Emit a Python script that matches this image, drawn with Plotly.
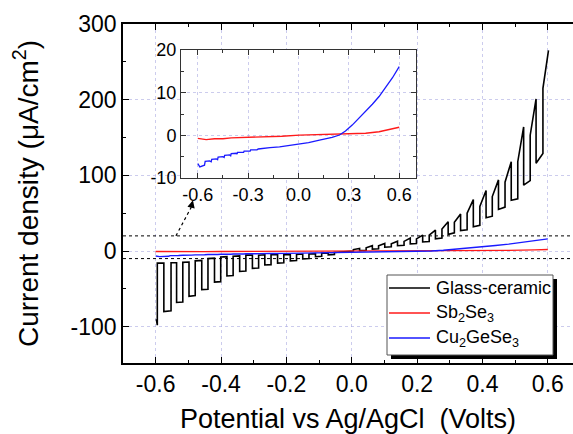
import plotly.graph_objects as go

FONT = "Liberation Sans, Arial, sans-serif"

# ---------------- data ----------------
# Glass-ceramic: chopped-light response. Each cycle = light on -> light off.
gc_start_v = [-0.598, -0.595]
gc_start_j = [-90.0, -98.0]
gc_first_dark = -16.0
gc_on_v = [-0.575, -0.536, -0.498, -0.459, -0.420, -0.382, -0.343, -0.304, -0.266, -0.227,
           -0.188, -0.150, -0.111, -0.072, -0.034, 0.005, 0.044, 0.082, 0.121, 0.160,
           0.198, 0.237, 0.276, 0.314, 0.353, 0.392, 0.430, 0.469, 0.508, 0.546, 0.585]
gc_off_v = [-0.553, -0.517, -0.479, -0.440, -0.401, -0.363, -0.324, -0.285, -0.247, -0.208,
            -0.169, -0.131, -0.092, -0.053, -0.015, 0.024, 0.063, 0.101, 0.140, 0.179,
            0.217, 0.256, 0.295, 0.333, 0.372, 0.411, 0.449, 0.488, 0.526, 0.564, 0.602]
gc_light_start = [-80, -68, -60, -51, -41, -33, -27, -23, -18.5, -16,
                  -13, -10.5, -7.5, -5, -2, 1.9, 4.3, 6.9, 9.6, 12.7,
                  16, 21, 29, 38, 50, 59, 72, 91, 118, 153, 215]
gc_light_end = [-79, -67.5, -59, -50.5, -40.5, -32.5, -26.5, -22.5, -18, -15.5,
                -12.5, -10, -7, -4.5, -1, 3.5, 7, 10, 13, 17,
                21, 27.7, 38.7, 49, 68, 80, 94, 118, 164, 201, 265]
gc_dark_start = [-15.5, -15, -13, -10, -8, -7, -5.5, -5.5, -5, -5,
                 -4.5, -4, -3, -2, -0.5, 0.5, 2.5, 5, 7, 9.5,
                 12, 16, 22, 27, 32, 44, 55, 67, 87, 116]
gc_dark_end = [-15.5, -14.5, -12.5, -9.5, -7.5, -6.5, -5.5, -5, -5, -4.5,
               -4, -3.5, -2.5, -1.5, 0, 1, 3, 5.5, 7.5, 10,
               12.5, 17, 24, 28, 34, 46, 58, 69, 93, 129]

sb_v = [-0.600, -0.550, -0.500, -0.450, -0.400, -0.300, -0.230, -0.100, 0.006, 0.100,
        0.245, 0.400, 0.480, 0.560, 0.600]
sb_j = [-0.7, -1.0, -0.8, -0.8, -0.6, -0.5, -0.4, -0.2, 0.05, 0.15,
        0.3, 0.5, 0.85, 1.5, 1.9]

cu_v = [-0.600, -0.588, -0.560, -0.556, -0.530, -0.520, -0.517, -0.490, -0.482, -0.479,
        -0.450, -0.443, -0.440, -0.410, -0.404, -0.401, -0.370, -0.366, -0.363, -0.330,
        -0.327, -0.324, -0.290, -0.288, -0.285, -0.250, -0.247, -0.240, -0.200, -0.170,
        -0.113, -0.050, 0.006, 0.060, 0.125, 0.200, 0.244, 0.280, 0.320, 0.360,
        0.400, 0.440, 0.480, 0.520, 0.560, 0.600]
cu_j = [-6.6, -7.4, -7.0, -6.1, -6.0, -6.2, -5.6, -5.5, -5.7, -5.1,
        -5.0, -5.2, -4.7, -4.6, -4.8, -4.3, -4.2, -4.4, -4.0, -3.9,
        -4.0, -3.7, -3.6, -3.7, -3.4, -3.3, -3.4, -3.2, -3.1, -2.9,
        -2.7, -2.4, -2.1, -1.7, -1.1, -0.5, 0.07, 1.0, 2.4, 4.0,
        5.7, 7.3, 9.1, 11.2, 13.5, 16.1]

series_names = ["Glass-ceramic", "Sb<sub>2</sub>Se<sub>3</sub>", "Cu<sub>2</sub>GeSe<sub>3</sub>"]
series_colors = ["#000000", "#ff1a1a", "#1a1aff"]

x_ticks = [-0.6, -0.4, -0.2, 0.0, 0.2, 0.4, 0.6]
x_tick_labels = ["-0.6", "-0.4", "-0.2", "0.0", "0.2", "0.4", "0.6"]
y_ticks = [-100, 0, 100, 200, 300]
y_tick_labels = ["-100", "0", "100", "200", "300"]
in_x_ticks = [-0.6, -0.3, 0.0, 0.3, 0.6]
in_x_tick_labels = ["-0.6", "-0.3", "0.0", "0.3", "0.6"]
in_y_ticks = [-10, 0, 10, 20]
in_y_tick_labels = ["-10", "0", "10", "20"]
inset_x_range = [-0.7, 0.7]
inset_y_range = [-10, 20]
arrow_from = [-0.538, 20]
arrow_to = [-0.486, 67]

# ---------------- assemble glass-ceramic polyline ----------------
gc_v = list(gc_start_v)
gc_j = list(gc_start_j)
gc_v.append(gc_start_v[-1]); gc_j.append(gc_first_dark)
prev_dark = gc_first_dark
for k in range(len(gc_on_v)):
    gc_v += [gc_on_v[k], gc_on_v[k], gc_off_v[k]]
    gc_j += [prev_dark, gc_light_start[k], gc_light_end[k]]
    if k < len(gc_dark_start):
        gc_v.append(gc_off_v[k]); gc_j.append(gc_dark_start[k])
        prev_dark = gc_dark_end[k]

GRID = "rgba(170,170,225,0.6)"

fig = go.Figure()
fig.add_trace(go.Scatter(x=gc_v, y=gc_j, mode="lines", name=series_names[0],
                         line=dict(color=series_colors[0], width=1.6)))
fig.add_trace(go.Scatter(x=sb_v, y=sb_j, mode="lines", name=series_names[1],
                         line=dict(color=series_colors[1], width=1.4)))
fig.add_trace(go.Scatter(x=cu_v, y=cu_j, mode="lines", name=series_names[2],
                         line=dict(color=series_colors[2], width=1.4)))
fig.add_trace(go.Scatter(x=sb_v, y=sb_j, mode="lines", showlegend=False, xaxis="x2", yaxis="y2",
                         line=dict(color=series_colors[1], width=1.4)))
fig.add_trace(go.Scatter(x=cu_v, y=cu_j, mode="lines", showlegend=False, xaxis="x2", yaxis="y2",
                         line=dict(color=series_colors[2], width=1.3)))

W, H = 573, 434
L, R, T, B = 123, 0, 24, 71
pw, ph = W - L - R, H - T - B

def px2paper_x(px):
    return (px - L) / pw

def px2paper_y(py):
    return (H - B - py) / ph

fig.update_layout(
    width=W, height=H,
    margin=dict(l=L, r=R, t=T, b=B),
    paper_bgcolor="white", plot_bgcolor="white",
    font=dict(family=FONT, color="black"),
    showlegend=False,
    xaxis=dict(range=[-0.7, 0.677], tickvals=x_ticks, ticktext=x_tick_labels,
               ticks="inside", ticklen=6, tickwidth=1.2, tickcolor="black",
               showline=True, linecolor="black", linewidth=1.5, mirror="ticks",
               showgrid=True, gridcolor=GRID, griddash="dot", gridwidth=1, zeroline=False,
               minor=dict(dtick=0.1, tick0=0, ticks="inside", ticklen=3, tickcolor="black", showgrid=False),
               tickfont=dict(size=23),
               title=dict(text="Potential vs Ag/AgCl \u00a0(Volts)", font=dict(size=27), standoff=15)),
    yaxis=dict(range=[-148, 300], tickvals=y_ticks, ticktext=y_tick_labels,
               ticks="inside", ticklen=6, tickwidth=1.2, tickcolor="black",
               showline=True, linecolor="black", linewidth=1.5, mirror=False,
               showgrid=True, gridcolor=GRID, griddash="dot", gridwidth=1, zeroline=False,
               minor=dict(dtick=50, tick0=0, ticks="inside", ticklen=3, tickcolor="black", showgrid=False),
               tickfont=dict(size=23),
               title=dict(text="Current density (\u03bcA/cm<sup>2</sup>)", font=dict(size=28), standoff=24)),
    xaxis2=dict(domain=[px2paper_x(181), px2paper_x(416)], anchor="y2", range=inset_x_range,
                tickvals=in_x_ticks, ticktext=in_x_tick_labels,
                ticks="inside", ticklen=5, tickcolor="#333", showline=True, linecolor="#333",
                linewidth=1, mirror="ticks", showgrid=True, gridcolor=GRID, griddash="dot",
                zeroline=False,
                minor=dict(dtick=0.15, tick0=0, ticks="inside", ticklen=3, tickcolor="#333", showgrid=False),
                tickfont=dict(size=18)),
    yaxis2=dict(domain=[px2paper_y(178), px2paper_y(50)], anchor="x2", range=inset_y_range,
                tickvals=in_y_ticks, ticktext=in_y_tick_labels,
                ticks="inside", ticklen=5, tickcolor="#333", showline=True, linecolor="#333",
                linewidth=1, mirror="ticks", showgrid=True, gridcolor=GRID, griddash="dot",
                zeroline=False,
                minor=dict(dtick=5, tick0=0, ticks="inside", ticklen=3, tickcolor="#333", showgrid=False),
                tickfont=dict(size=18)),
)

# dotted lines marking the inset's current range
for yv in inset_y_range:
    fig.add_shape(type="line", xref="paper", yref="y", x0=0, x1=1, y0=yv, y1=yv,
                  line=dict(color="black", width=1, dash="dot"))
# dotted arrow pointing to the inset
fig.add_shape(type="line", xref="x", yref="y", x0=arrow_from[0], y0=arrow_from[1],
              x1=arrow_to[0] - 0.005, y1=arrow_to[1] - 9,
              line=dict(color="black", width=1.2, dash="dot"))
fig.add_annotation(x=arrow_to[0], y=arrow_to[1], ax=arrow_to[0] - 0.006, ay=arrow_to[1] - 10,
                   xref="x", yref="y", axref="x", ayref="y", text="", showarrow=True,
                   arrowhead=2, arrowsize=1, arrowwidth=1.5, arrowcolor="black")

# legend box with drop shadow (drawn as shapes + text)
LEG_X0, LEG_X1, LEG_Y0, LEG_Y1 = 387, 553, 275, 355
SH = 4
fig.add_shape(type="rect", xref="paper", yref="paper",
              x0=px2paper_x(LEG_X0 + SH), x1=px2paper_x(LEG_X1 + SH),
              y0=px2paper_y(LEG_Y1 + SH), y1=px2paper_y(LEG_Y0 + SH),
              fillcolor="black", line=dict(width=0), layer="above")
fig.add_shape(type="rect", xref="paper", yref="paper",
              x0=px2paper_x(LEG_X0), x1=px2paper_x(LEG_X1),
              y0=px2paper_y(LEG_Y1), y1=px2paper_y(LEG_Y0),
              fillcolor="white", line=dict(color="#555", width=1), layer="above")
row_y = [288, 313, 338]
for name, color, ry in zip(series_names, series_colors, row_y):
    fig.add_shape(type="line", xref="paper", yref="paper",
                  x0=px2paper_x(389), x1=px2paper_x(430), y0=px2paper_y(ry), y1=px2paper_y(ry),
                  line=dict(color=color, width=1.5), layer="above")
    fig.add_annotation(x=px2paper_x(434), y=px2paper_y(ry), xref="paper", yref="paper",
                       text=name, showarrow=False, xanchor="left", yanchor="middle",
                       font=dict(size=18, family=FONT, color="black"))

fig.write_html("out.html")
